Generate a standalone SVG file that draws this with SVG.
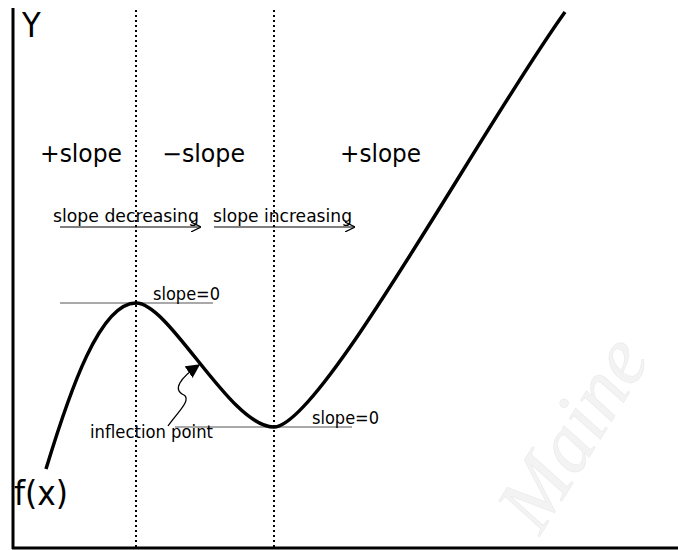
<svg xmlns="http://www.w3.org/2000/svg" width="678" height="550" viewBox="0 0 678 550">
<defs>
<style>
.t{font-family:"DejaVu Sans","Liberation Sans",sans-serif;fill:#000}
.c{font-family:"DejaVu Sans Condensed","DejaVu Sans",sans-serif}
.big{font-size:34px}
.mid{font-size:24px}
.sm{font-size:17px}
.dot{stroke:#000;stroke-width:2;stroke-dasharray:2,3;fill:none}
.tan{stroke:#555;stroke-width:1.2;fill:none}
.arr{stroke:#000;stroke-width:1.2;fill:none}
</style>
<marker id="open" viewBox="0 0 10 10" refX="9" refY="5" markerWidth="10" markerHeight="10" markerUnits="userSpaceOnUse" orient="auto">
<path d="M0,0 L10,5 L0,10" fill="none" stroke="#000" stroke-width="1.2"/>
</marker>
<marker id="solid" viewBox="0 0 10 10" refX="9" refY="5" markerWidth="14" markerHeight="14" markerUnits="userSpaceOnUse" orient="auto">
<path d="M0,0 L10,5 L0,10 z" fill="#000"/>
</marker>
</defs>
<rect width="678" height="550" fill="#fff"/>
<text x="540" y="536" transform="rotate(-58 540 536)" font-family="Liberation Serif,serif" font-style="italic" font-size="82" fill="#f3f3f3" stroke="#e8e8e8" stroke-width="0.5">Maine</text>
<g id="axes">
<line x1="13" y1="8" x2="13" y2="549" stroke="#000" stroke-width="3"/>
<line x1="12" y1="548" x2="678" y2="548" stroke="#000" stroke-width="3"/>
</g>
<g id="guides">
<line class="dot" x1="136" y1="10" x2="136" y2="550"/>
<line class="dot" x1="274" y1="10" x2="274" y2="550"/>
</g>
<g id="labels">
<text class="t c big" x="22" y="37">Y</text>
<text class="t c big" x="14" y="505" textLength="54" lengthAdjust="spacingAndGlyphs">f(x)</text>
<text class="t mid" x="40" y="162" textLength="82" lengthAdjust="spacingAndGlyphs">+slope</text>
<text class="t mid" x="162" y="162" textLength="83" lengthAdjust="spacingAndGlyphs">−slope</text>
<text class="t mid" x="340" y="162" textLength="81" lengthAdjust="spacingAndGlyphs">+slope</text>
</g>
<g id="connectors">
<line class="arr" x1="60" y1="227" x2="200" y2="227" marker-end="url(#open)"/>
<line class="arr" x1="214" y1="227" x2="354" y2="227" marker-end="url(#open)"/>
<path d="M168,426 C176,414 192,400 184,395 C172,390 180,378 199,365" stroke="#000" stroke-width="1.3" fill="none" marker-end="url(#solid)"/>
</g>
<g id="tangents">
<line class="tan" x1="60" y1="303" x2="213" y2="303"/>
<line class="tan" x1="175" y1="427" x2="352" y2="427"/>
</g>
<g id="curve">
<path d="M46,469 C70,390 100,303 136,303 C170,303 230,427 274,427 C320,427 480,130 565,12" fill="none" stroke="#000" stroke-width="3.5"/>
</g>
<g id="small-labels">
<text class="t sm" x="53" y="222" textLength="146" lengthAdjust="spacingAndGlyphs">slope decreasing</text>
<text class="t sm" x="213" y="222" textLength="139" lengthAdjust="spacingAndGlyphs">slope increasing</text>
<text class="t sm" x="153" y="300" textLength="67" lengthAdjust="spacingAndGlyphs">slope=0</text>
<text class="t sm" x="312" y="424" textLength="67" lengthAdjust="spacingAndGlyphs">slope=0</text>
<text class="t sm" x="90" y="438" textLength="123" lengthAdjust="spacingAndGlyphs">inflection point</text>
</g>
</svg>
